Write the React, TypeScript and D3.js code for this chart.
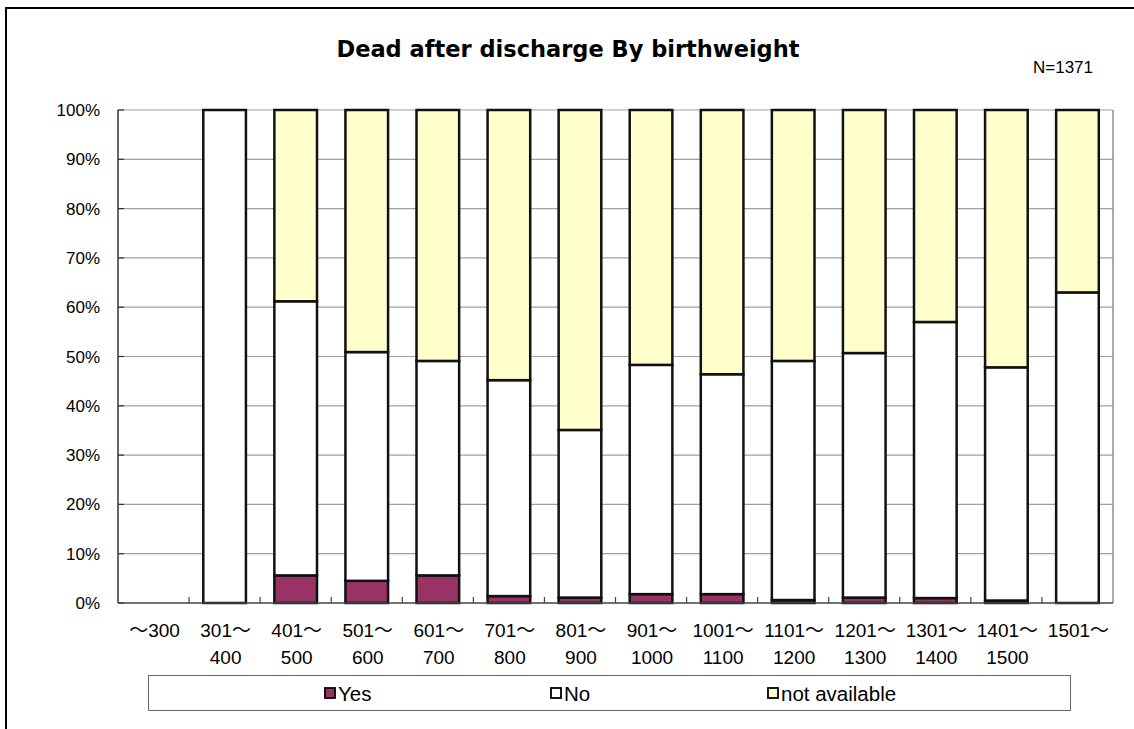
import React, { useEffect, useRef } from "react";
import * as d3 from "d3";

// birthweight classes (two-line labels)
const categories = ["～300", "301～\n400", "401～\n500", "501～\n600", "601～\n700", "701～\n800", "801～\n900",
  "901～\n1000", "1001～\n1100", "1101～\n1200", "1201～\n1300", "1301～\n1400", "1401～\n1500", "1501～"];

// percent shares per class
const yesValues = [0, 0, 5.6, 4.5, 5.6, 1.4, 1.1, 1.8, 1.8, 0.6, 1.1, 1.0, 0.5, 0];
const noValues = [0, 100, 55.6, 46.4, 43.5, 43.8, 34.0, 46.5, 44.6, 48.5, 49.6, 56.0, 47.3, 63.0];
const naValues = [0, 0, 38.8, 49.1, 50.9, 54.8, 64.9, 51.7, 53.6, 50.9, 49.3, 43.0, 52.2, 37.0];

const seriesKeys = ["Yes", "No", "not available"];
const seriesColors = { "Yes": "#993366", "No": "#ffffff", "not available": "#ffffcc" };
const yTicks = [0, 10, 20, 30, 40, 50, 60, 70, 80, 90, 100];

const FONT = "'Liberation Sans', Arial, 'Noto Sans CJK JP', sans-serif";
const TITLE_FONT = "'DejaVu Sans', 'Noto Sans CJK JP', sans-serif";

const App = () => {
  const svgRef = useRef(null);

  useEffect(() => {
    const svg = d3.select(svgRef.current);
    svg.selectAll("*").remove();

    const width = 1134, height = 729;
    const plot = { left: 118, right: 1113, top: 110, bottom: 603 };

    const data = categories.map((c, i) => ({
      label: c,
      "Yes": yesValues[i],
      "No": noValues[i],
      "not available": naValues[i]
    }));

    const x = d3.scaleBand().domain(categories).range([plot.left, plot.right]).paddingInner(0.4).paddingOuter(0.2);
    const y = d3.scaleLinear().domain([0, 100]).range([plot.bottom, plot.top]);
    const step = x.step();

    svg.append("rect").attr("width", width).attr("height", height).attr("fill", "#fff");

    // outer frame
    svg.append("rect")
      .attr("x", 6).attr("y", 8).attr("width", width + 10).attr("height", height + 10)
      .attr("fill", "none").attr("stroke", "#000").attr("stroke-width", 2);

    // title
    svg.append("text")
      .attr("x", 568).attr("y", 57)
      .attr("text-anchor", "middle")
      .style("font-family", TITLE_FONT).style("font-weight", "bold").style("font-size", "22.5px")
      .text("Dead after discharge By birthweight");

    svg.append("text")
      .attr("x", 1093).attr("y", 73)
      .attr("text-anchor", "end")
      .style("font-family", FONT).style("font-size", "17px")
      .text("N=1371");

    // gridlines
    svg.append("g").selectAll("line").data(yTicks.filter(d => d > 0)).enter().append("line")
      .attr("x1", plot.left).attr("x2", plot.right)
      .attr("y1", d => y(d)).attr("y2", d => y(d))
      .attr("stroke", "#a0a0a0").attr("stroke-width", 1.2);

    // right border of plot
    svg.append("line")
      .attr("x1", plot.right).attr("x2", plot.right).attr("y1", plot.top).attr("y2", plot.bottom)
      .attr("stroke", "#909090").attr("stroke-width", 1.5);

    // y labels
    svg.append("g").selectAll("text").data(yTicks).enter().append("text")
      .attr("x", plot.left - 18).attr("y", d => y(d) + 6)
      .attr("text-anchor", "end")
      .style("font-family", FONT).style("font-size", "17px")
      .text(d => d + "%");

    // y ticks (inside)
    svg.append("g").selectAll("line").data(yTicks).enter().append("line")
      .attr("x1", plot.left).attr("x2", plot.left + 6)
      .attr("y1", d => y(d)).attr("y2", d => y(d))
      .attr("stroke", "#333").attr("stroke-width", 1.2);

    // stacked bars
    const stacked = d3.stack().keys(seriesKeys)(data);
    svg.append("g").selectAll("g").data(stacked).enter().append("g")
      .attr("fill", d => seriesColors[d.key])
      .selectAll("rect").data(d => d.filter(s => s[1] - s[0] > 0)).enter().append("rect")
      .attr("x", d => x(d.data.label))
      .attr("y", d => y(d[1]))
      .attr("width", x.bandwidth())
      .attr("height", d => y(d[0]) - y(d[1]))
      .attr("stroke", "#111").attr("stroke-width", 2.5);

    // axes lines
    svg.append("line")
      .attr("x1", plot.left).attr("x2", plot.left).attr("y1", plot.top).attr("y2", plot.bottom)
      .attr("stroke", "#333").attr("stroke-width", 1.5);
    svg.append("line")
      .attr("x1", plot.left).attr("x2", plot.right).attr("y1", plot.bottom).attr("y2", plot.bottom)
      .attr("stroke", "#444").attr("stroke-width", 1.5);

    // x ticks at category boundaries (inside)
    svg.append("g").selectAll("line").data(categories.slice(1)).enter().append("line")
      .attr("x1", d => x(d) - step * 0.2).attr("x2", d => x(d) - step * 0.2)
      .attr("y1", plot.bottom - 6).attr("y2", plot.bottom)
      .attr("stroke", "#444").attr("stroke-width", 1.2);

    // x labels
    const xl = svg.append("g").selectAll("text").data(categories).enter().append("text")
      .attr("text-anchor", "middle")
      .style("font-family", FONT).style("font-size", "19px");
    xl.each(function (d) {
      const parts = d.split("\n");
      const t = d3.select(this);
      parts.forEach((p, i) => {
        t.append("tspan")
          .attr("x", x(d) + x.bandwidth() / 2 + 1)
          .attr("y", 637 + i * 27)
          .text(p);
      });
    });

    // legend
    svg.append("rect")
      .attr("x", 148.5).attr("y", 675.5).attr("width", 922).attr("height", 35)
      .attr("fill", "#fff").attr("stroke", "#666").attr("stroke-width", 1);
    const legendX = [325, 551, 768];
    const lg = svg.append("g").selectAll("g").data(seriesKeys).enter().append("g")
      .attr("transform", (d, i) => `translate(${legendX[i]},693)`);
    lg.append("rect")
      .attr("x", 0).attr("y", -5).attr("width", 10).attr("height", 10)
      .attr("fill", d => seriesColors[d]).attr("stroke", "#000").attr("stroke-width", 1.8);
    lg.append("text")
      .attr("x", 13).attr("y", 8)
      .style("font-family", FONT).style("font-size", "20.5px")
      .text(d => d);
  }, []);

  return (
    <div style={{ position: "absolute", left: 0, top: 0 }}>
      <svg ref={svgRef} width={1134} height={729}></svg>
    </div>
  );
};

export default App;
